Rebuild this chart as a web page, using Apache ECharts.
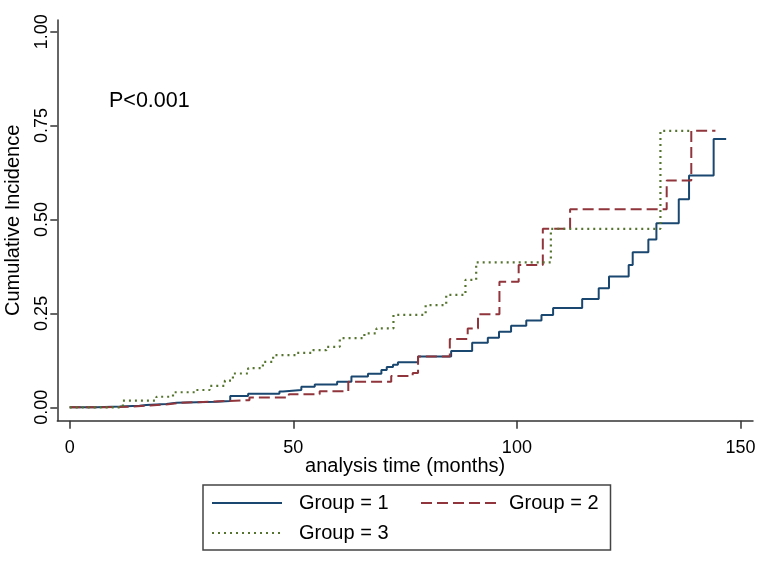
<!DOCTYPE html>
<html>
<head>
<meta charset="utf-8">
<script src="https://cdn.jsdelivr.net/npm/echarts@6/dist/echarts.min.js"></script>
<style>html,body{margin:0;padding:0;background:#fff;}#c{width:780px;height:568px;}</style>
</head>
<body>
<div id="c"></div>
<script>
// ---- data ----
const xTicks = [0, 50, 100, 150];
const yTicks = [0, 0.25, 0.5, 0.75, 1];
const seriesNames = ['Group = 1', 'Group = 2', 'Group = 3'];

const g1Time  = [0, 6.0, 11.2, 15.6, 17.1, 21.6, 23.9, 32.8, 35.9, 39.9, 46.9, 47.7, 51.8, 54.8, 59.8, 63.0, 66.7, 69.7, 70.9, 72.3, 73.4, 77.9, 85.3, 90.0, 93.5, 96.0, 98.7, 102.1, 105.5, 108.1, 114.6, 118.3, 120.6, 125.0, 125.9, 129.4, 131.2, 136.2, 138.5, 144.0, 146.8];
const g1Value = [0, 0.002, 0.004, 0.006, 0.009, 0.012, 0.015, 0.017, 0.030, 0.036, 0.042, 0.046, 0.055, 0.061, 0.068, 0.082, 0.089, 0.099, 0.107, 0.113, 0.120, 0.135, 0.150, 0.172, 0.185, 0.201, 0.217, 0.231, 0.246, 0.264, 0.288, 0.317, 0.348, 0.379, 0.413, 0.447, 0.490, 0.554, 0.617, 0.714, 0.714];

const g2Time  = [0, 8.0, 14.0, 18.0, 22.0, 25.0, 33.5, 40.2, 49.0, 55.9, 62.3, 71.9, 76.7, 77.9, 85.0, 89.0, 91.3, 96.1, 100.4, 105.8, 111.9, 133.5, 139.0, 144.4];
const g2Value = [0, 0.002, 0.005, 0.008, 0.012, 0.016, 0.019, 0.026, 0.035, 0.043, 0.068, 0.083, 0.091, 0.135, 0.182, 0.210, 0.248, 0.334, 0.379, 0.475, 0.527, 0.604, 0.736, 0.736];

const g3Time  = [0, 11.9, 19.4, 23.1, 28.3, 31.3, 34.7, 36.5, 39.9, 43.2, 45.5, 50.5, 54.4, 57.4, 60.4, 65.9, 68.6, 72.4, 79.6, 84.2, 88.5, 90.9, 107.6, 132.1, 138.7];
const g3Value = [0, 0.018, 0.028, 0.040, 0.046, 0.057, 0.071, 0.090, 0.104, 0.121, 0.139, 0.145, 0.152, 0.161, 0.184, 0.197, 0.210, 0.246, 0.272, 0.299, 0.339, 0.386, 0.475, 0.736, 0.736];

const pText = 'P<0.001';
const xName = 'analysis time (months)';
const yName = 'Cumulative Incidence';

// ---- chart ----
const zip = (t, v) => t.map((x, i) => [x, v[i]]);
const FONT = '"Liberation Sans", Arial, sans-serif';
const colors = ['#1a476f', '#90353b', '#55752f'];

const chart = echarts.init(document.getElementById('c'), null, {renderer: 'canvas'});

function mkSeries(name, data, color, type, width) {
  return {
    name, type: 'line', step: 'end', data,
    symbol: 'none', showSymbol: false, animation: false,
    lineStyle: {color, width, type, cap: 'butt'},
    itemStyle: {color},
    emphasis: {disabled: true}
  };
}

const legendTextA = {fontFamily: FONT, fontSize: 20, color: '#000', padding: [0, 0, 0, 12], lineHeight: 20};
const legendTextB = {fontFamily: FONT, fontSize: 20, color: '#000', padding: [0, 0, 0, 6], lineHeight: 20};
const legendItemStyle = {color: 'rgba(0,0,0,0)', borderColor: 'rgba(0,0,0,0)', borderWidth: 0, opacity: 0};

chart.setOption({
  animation: false,
  backgroundColor: '#fff',
  textStyle: {fontFamily: FONT},
  title: {
    text: pText, left: 109, top: 90, padding: 0,
    textStyle: {fontFamily: FONT, fontSize: 21.5, fontWeight: 'normal', color: '#000'}
  },
  grid: {left: 57.3, right: 27, top: 20, bottom: 147.3, containLabel: false, outerBoundsMode: 'none'},
  legend: [
    {
      data: [seriesNames[0], seriesNames[2]],
      orient: 'vertical', left: 203, top: 485,
      padding: [8, 222, 7, 8],
      itemWidth: 70, itemHeight: 20, itemGap: 10,
      borderColor: '#444', borderWidth: 1.5,
      textStyle: legendTextA, itemStyle: legendItemStyle,
      selectedMode: false
    },
    {
      data: [seriesNames[1]],
      orient: 'vertical', left: 420, top: 493, padding: 0,
      itemWidth: 77, itemHeight: 20,
      textStyle: legendTextB, itemStyle: legendItemStyle,
      selectedMode: false
    }
  ],
  xAxis: {
    type: 'value', min: -2.77, max: 152.8,
    name: xName, nameLocation: 'middle', nameGap: 36, nameMoveOverlap: false,
    nameTextStyle: {fontFamily: FONT, fontSize: 20, color: '#000'},
    axisLine: {show: true, onZero: false, lineStyle: {color: '#333', width: 1.5}},
    axisTick: {show: true, length: 8, customValues: xTicks, lineStyle: {color: '#333', width: 1.5}},
    axisLabel: {customValues: xTicks, margin: 18, fontFamily: FONT, fontSize: 18, color: '#000'},
    splitLine: {show: false}
  },
  yAxis: {
    type: 'value', min: -0.0357, max: 1.031,
    name: yName, nameLocation: 'middle', nameGap: 34, nameMoveOverlap: false,
    nameTextStyle: {fontFamily: FONT, fontSize: 20, color: '#000'},
    axisLine: {show: true, onZero: false, lineStyle: {color: '#333', width: 1.5}},
    axisTick: {show: true, length: 7, customValues: yTicks, lineStyle: {color: '#333', width: 1.5}},
    axisLabel: {customValues: yTicks, rotate: 90, margin: 6, fontFamily: FONT, fontSize: 18, color: '#000',
      formatter: v => v.toFixed(2)},
    splitLine: {show: false}
  },
  series: [
    mkSeries(seriesNames[0], zip(g1Time, g1Value), colors[0], 'solid', 2),
    mkSeries(seriesNames[1], zip(g2Time, g2Value), colors[1], [11, 5], 2),
    mkSeries(seriesNames[2], zip(g3Time, g3Value), colors[2], [2, 4], 2.2)
  ]
});
</script>
</body>
</html>
